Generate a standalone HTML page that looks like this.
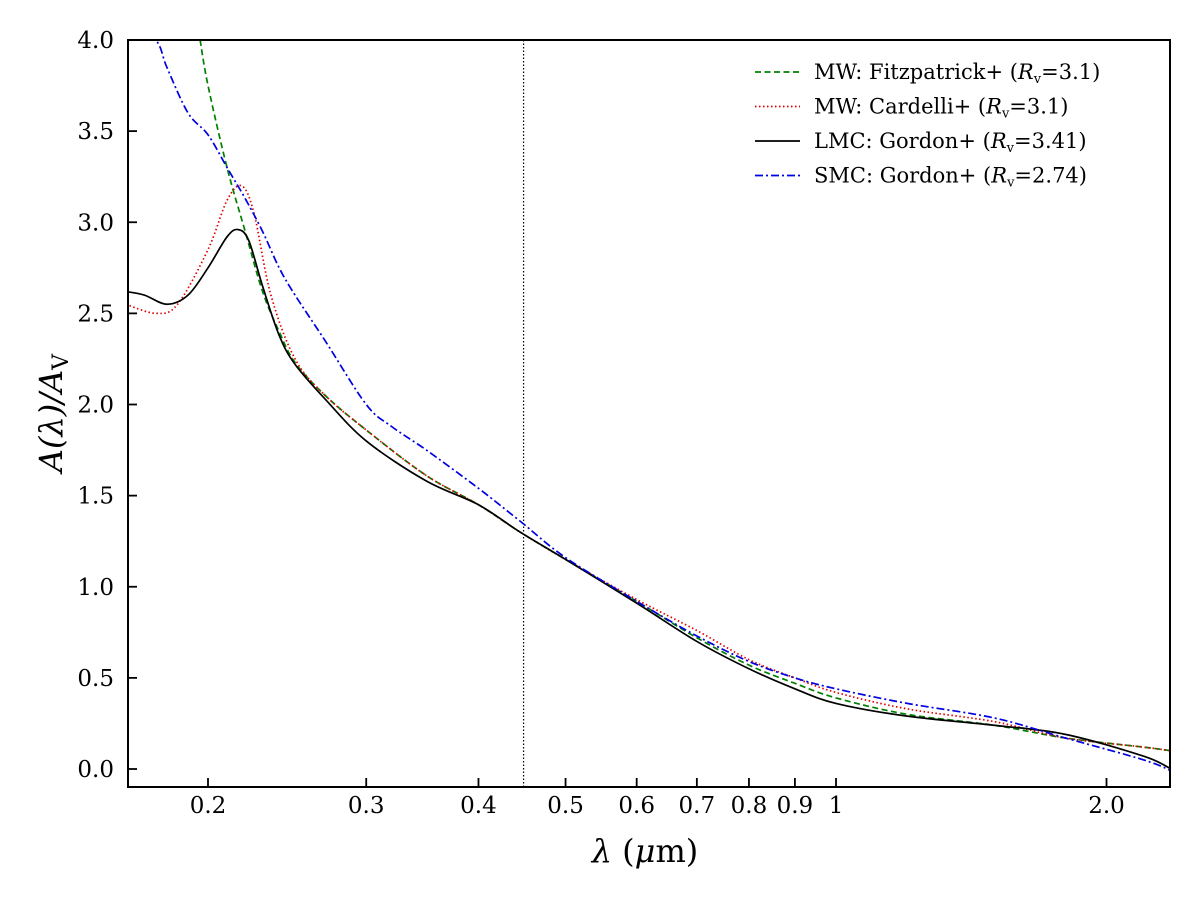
<!DOCTYPE html>
<html><head><meta charset="utf-8"><style>
body{margin:0;background:#fff}
svg text{font-family:"DejaVu Serif","Liberation Serif",serif;fill:#000}
</style></head><body>
<svg id="chart" width="1200" height="903" viewBox="0 0 1200 903" xmlns="http://www.w3.org/2000/svg">
<defs><clipPath id="pc"><rect x="128" y="40" width="1042" height="747"/></clipPath></defs>
<rect x="0" y="0" width="1200" height="903" fill="#fff"/>
<g id="ticks"></g>
<g id="series" clip-path="url(#pc)"></g>
<rect x="128" y="40" width="1042" height="747" fill="none" stroke="#000" stroke-width="2"/>
<text transform="translate(62,413) rotate(-90)" text-anchor="middle" font-size="32" font-style="italic">A(λ)/A<tspan font-size="22" dy="6" font-style="normal">V</tspan></text>
<text x="645" y="862" text-anchor="middle" font-size="32"><tspan font-style="italic">λ</tspan> (<tspan font-style="italic">μ</tspan>m)</text>
<g id="legend" font-size="21"></g>
</svg>
<script>
const xTicks=[0.2,0.3,0.4,0.5,0.6,0.7,0.8,0.9,1,2.0];
const xTickLabels=["0.2","0.3","0.4","0.5","0.6","0.7","0.8","0.9","1","2.0"];
const yTicks=[0,0.5,1,1.5,2,2.5,3,3.5,4];
const yTickLabels=["0.0","0.5","1.0","1.5","2.0","2.5","3.0","3.5","4.0"];
const vLine=0.449;
const fitzLam=[0.196,0.2,0.21,0.22,0.23,0.24,0.25,0.27,0.3,0.35,0.4,0.445,0.5,0.6,0.7,0.8,0.9,1.0,1.2,1.5,1.8,2.2,2.36];
const fitzVal=[4.0,3.75,3.3,2.95,2.62,2.4,2.23,2.05,1.86,1.61,1.45,1.30,1.15,0.92,0.72,0.57,0.47,0.39,0.30,0.24,0.17,0.12,0.10];
const cardLam=[0.162,0.175,0.185,0.2,0.21,0.218,0.225,0.235,0.25,0.27,0.3,0.35,0.4,0.445,0.5,0.6,0.7,0.8,0.9,1.0,1.2,1.5,1.8,2.2,2.36];
const cardVal=[2.55,2.50,2.55,2.85,3.12,3.2,3.05,2.6,2.25,2.05,1.86,1.61,1.45,1.30,1.15,0.93,0.76,0.60,0.50,0.42,0.33,0.26,0.17,0.12,0.10];
const lmcLam=[0.162,0.17,0.18,0.19,0.2,0.21,0.216,0.222,0.23,0.24,0.25,0.27,0.3,0.35,0.4,0.445,0.5,0.6,0.7,0.8,0.9,1.0,1.2,1.5,1.8,2.2,2.36];
const lmcVal=[2.62,2.60,2.55,2.60,2.75,2.92,2.96,2.90,2.65,2.38,2.22,2.03,1.80,1.58,1.45,1.30,1.15,0.91,0.70,0.55,0.44,0.36,0.29,0.24,0.19,0.07,0.0];
const smcLam=[0.162,0.175,0.18,0.19,0.2,0.21,0.22,0.23,0.24,0.25,0.27,0.3,0.32,0.35,0.4,0.445,0.5,0.6,0.7,0.8,0.9,1.0,1.2,1.5,1.8,2.2,2.36];
const smcVal=[4.15,4.0,3.85,3.6,3.48,3.3,3.13,2.95,2.75,2.6,2.35,2.0,1.88,1.75,1.54,1.36,1.16,0.92,0.73,0.59,0.50,0.44,0.36,0.28,0.17,0.05,-0.01];
const NS="http://www.w3.org/2000/svg";
const X=l=>208+898.5*Math.log10(l/0.2);
const Y=v=>769-182.25*v;
function mk(t,a,p){const e=document.createElementNS(NS,t);for(const k in a)e.setAttribute(k,a[k]);p.appendChild(e);return e;}
const tk=document.getElementById('ticks');
xTicks.forEach((t,i)=>{
 const l=mk('line',{x1:X(t),x2:X(t),y1:787,y2:778,stroke:'#000','stroke-width':1.8},tk);
 
 
 const tx=mk('text',{x:X(t),y:813,'text-anchor':'middle','font-size':23},tk);tx.textContent=xTickLabels[i];
 
 
});
yTicks.forEach((t,i)=>{
 const l=mk('line',{x1:128,x2:137,y1:Y(t),y2:Y(t),stroke:'#000','stroke-width':1.8},tk);
 
 
 const tx=mk('text',{x:114,y:Y(t)+8,'text-anchor':'end','font-size':23},tk);tx.textContent=yTickLabels[i];
 
 
});
const sg=document.getElementById('series');
const vl=mk('line',{x1:X(vLine),x2:X(vLine),y1:40,y2:787,stroke:'#000','stroke-width':1.2,'stroke-dasharray':'1.5,2'},sg);


function path(L,V){const p=L.map((l,i)=>[X(l),Y(V[i])]);let d='M'+p[0][0]+','+p[0][1];
 for(let i=0;i<p.length-1;i++){const p0=p[i-1]||p[i],p1=p[i],p2=p[i+1],p3=p[i+2]||p2;
 d+=` C${p1[0]+(p2[0]-p0[0])/6},${p1[1]+(p2[1]-p0[1])/6} ${p2[0]-(p3[0]-p1[0])/6},${p2[1]-(p3[1]-p1[1])/6} ${p2[0]},${p2[1]}`;}return d;}
const series=[
 {n:'fitzpatrick-line',L:fitzLam,V:fitzVal,c:'#008000',da:'6,3.5',lab:'MW: Fitzpatrick+ (',rv:'3.1'},
 {n:'cardelli-line',L:cardLam,V:cardVal,c:'#e00000',da:'1.5,2.5',lab:'MW: Cardelli+ (',rv:'3.1'},
 {n:'lmc-gordon-line',L:lmcLam,V:lmcVal,c:'#000',da:'none',lab:'LMC: Gordon+ (',rv:'3.41'},
 {n:'smc-gordon-line',L:smcLam,V:smcVal,c:'#0000e0',da:'8,3,2,3',lab:'SMC: Gordon+ (',rv:'2.74'}];
const lg=document.getElementById('legend');
series.forEach((s,i)=>{
 const p=mk('path',{d:path(s.L,s.V),fill:'none',stroke:s.c,'stroke-width':1.7,'stroke-dasharray':s.da},sg);
 
 
 const y=72+34.5*i;
 const ll=mk('line',{x1:755,x2:800,y1:y,y2:y,stroke:s.c,'stroke-width':1.7,'stroke-dasharray':s.da},lg);
 
 
 const t=mk('text',{x:814,y:y+7},lg);
 
 
 t.innerHTML=s.lab+'<tspan font-style="italic">R</tspan><tspan font-size="13" dy="4">v</tspan><tspan dy="-4">=</tspan><tspan>'+s.rv+')</tspan>';
});
</script>
</body></html>
